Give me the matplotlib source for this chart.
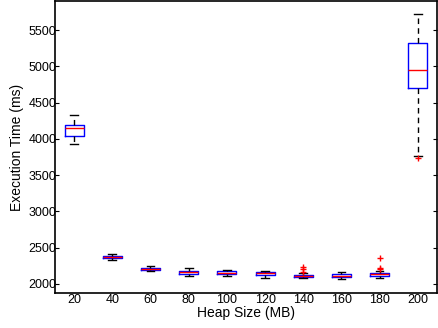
import matplotlib
matplotlib.use("Agg")
import matplotlib.pyplot as plt

plt.rcParams['font.family'] = ['Liberation Sans', 'DejaVu Sans']

heap_sizes = [20, 40, 60, 80, 100, 120, 140, 160, 180, 200]
whisker_low = [3928, 2326, 2175, 2114, 2110, 2083, 2083, 2064, 2078, 3760]
q1 = [4039, 2354, 2189, 2142, 2134, 2124, 2092, 2092, 2115, 4694]
medians = [4149, 2372, 2207, 2161, 2156, 2147, 2106, 2115, 2138, 4943]
q3 = [4190, 2386, 2225, 2179, 2175, 2165, 2124, 2134, 2152, 5325]
whisker_high = [4328, 2413, 2248, 2216, 2197, 2184, 2156, 2170, 2175, 5719]
outliers = [[], [], [], [], [], [], [2239, 2200, 2165], [], [2358, 2225, 2200], [3740]]

stats = []
for i in range(len(heap_sizes)):
    stats.append(dict(label=str(heap_sizes[i]), whislo=whisker_low[i], q1=q1[i],
                      med=medians[i], q3=q3[i], whishi=whisker_high[i],
                      fliers=outliers[i]))

fig = plt.figure(figsize=(4.38, 3.28), dpi=100)
ax = fig.add_axes([0.1256, 0.1067, 0.8720, 0.8903])

ax.bxp(stats, positions=range(1, len(heap_sizes) + 1), widths=0.5,
       boxprops=dict(color='blue', linewidth=1),
       medianprops=dict(color='red', linewidth=1),
       whiskerprops=dict(color='black', linestyle=(0, (4, 3)), linewidth=1),
       capprops=dict(color='black', linewidth=1),
       flierprops=dict(marker='+', markeredgecolor='red', markersize=5, linestyle='none'),
       capwidths=0.2)

ax.set_xlim(0.5, 10.5)
ax.set_ylim(1875, 5900)
ax.set_yticks([2000, 2500, 3000, 3500, 4000, 4500, 5000, 5500])
ax.tick_params(axis='y', direction='in', right=True, length=3, labelsize=9, pad=-1)
ax.tick_params(axis='x', length=0, labelsize=9, pad=1)
for s in ax.spines.values():
    s.set_linewidth(1.2)
ax.set_xlabel('Heap Size (MB)', fontsize=10, labelpad=0)
ax.set_ylabel('Execution Time (ms)', fontsize=10, labelpad=3)

fig.savefig('out.png', dpi=100)
